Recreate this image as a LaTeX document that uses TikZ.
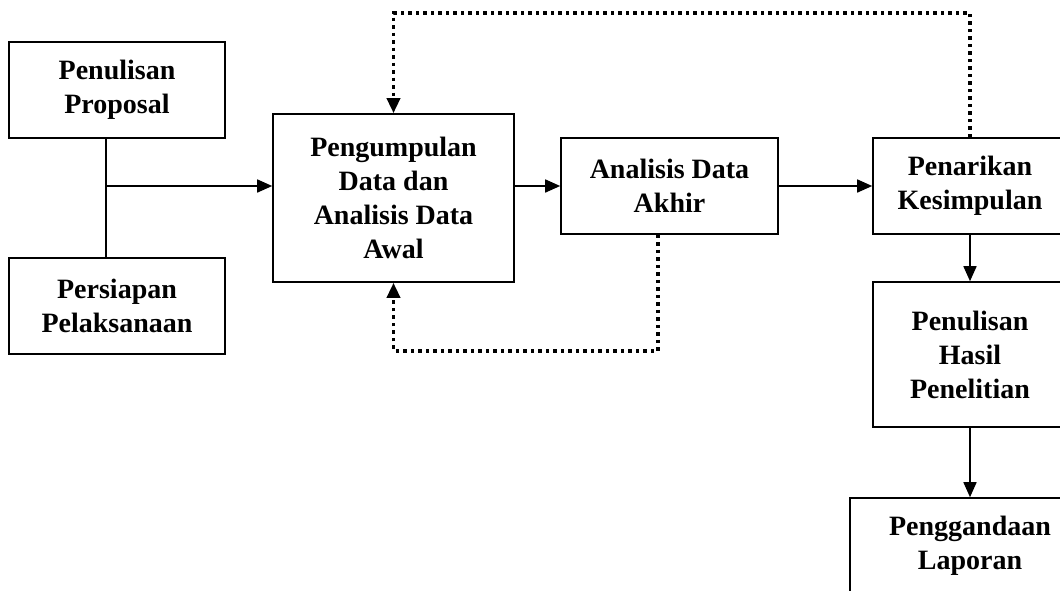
\documentclass[tikz,border=0pt]{standalone}
\usepackage{fontspec}
\setmainfont{Liberation Serif}
\usetikzlibrary{arrows.meta}
\tikzset{
  stagebox/.style={draw,line width=1.6pt,align=center,inner sep=0pt,
    font=\fontsize{28}{34}\selectfont\bfseries},
  flowline/.style={-{Triangle[length=15pt,width=13pt]},line width=1.6pt},
  feedback/.style={flowline,line width=3.5pt,dash pattern=on 3.5pt off 4pt}
}

\begin{document}
\begin{tikzpicture}[x=1pt,y=-1pt]

\useasboundingbox (0,0) rectangle (1060,590);
\clip (0,0) rectangle (1060,590);

\node[stagebox,minimum width=216pt,minimum height=96pt] (prop) at (117,90)
  {Penulisan\\Proposal};
\node[stagebox,minimum width=216pt,minimum height=96pt] (siap) at (117,306)
  {Persiapan\\Pelaksanaan};
\node[stagebox,minimum width=241pt,minimum height=168pt] (kumpul) at (393.5,198)
  {Pengumpulan\\Data dan\\Analisis Data\\Awal};
\node[stagebox,minimum width=217pt,minimum height=96pt] (akhir) at (669.5,186)
  {Analisis Data\\Akhir};
\node[stagebox,minimum width=194pt,minimum height=96pt] (tarik) at (970,186)
  {Penarikan\\Kesimpulan};
\node[stagebox,minimum width=194pt,minimum height=145pt] (hasil) at (970,354.5)
  {Penulisan\\Hasil\\Penelitian};
\node[stagebox,minimum width=240pt,minimum height=96pt] (ganda) at (970,546)
  {Penggandaan\\Laporan};

% proposal and preparation join into one line
\coordinate (split) at (106,186);
\draw[line width=1.6pt] (prop.south -| split) -- (siap.north -| split);
\draw[flowline] (split) -- (split -| kumpul.west);

\draw[flowline] (kumpul.east |- akhir.west) -- (akhir.west);
\draw[flowline] (akhir) -- (tarik);
\draw[flowline] (tarik) -- (hasil);
\draw[flowline] (hasil) -- (ganda);

% feedback loops
\draw[feedback] (tarik.north) -- ++(0,-124) -| (kumpul.north);
\draw[feedback] ([xshift=-11.5pt]akhir.south) -- ++(0,116) -| (kumpul.south);

\end{tikzpicture}
\end{document}
